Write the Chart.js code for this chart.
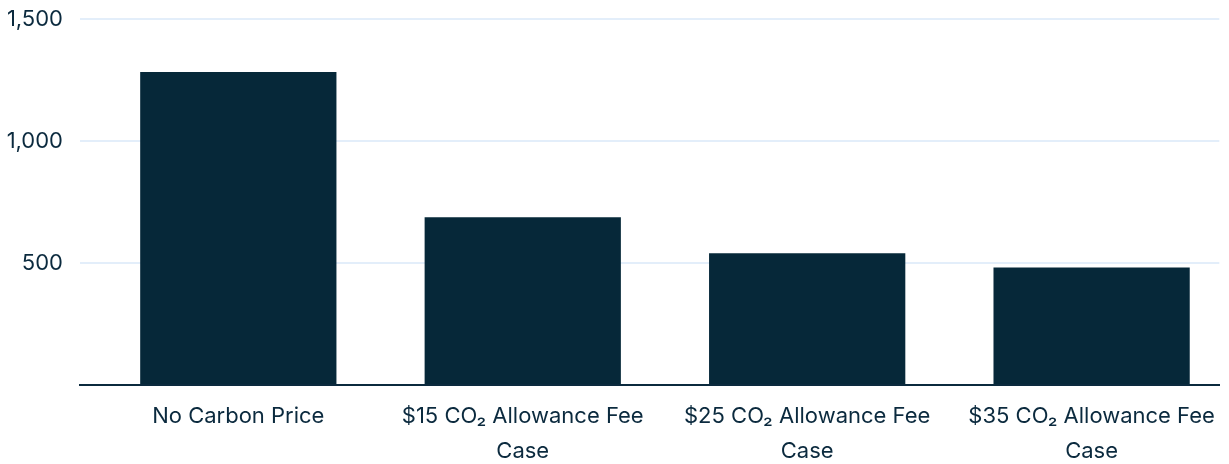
<!DOCTYPE html>
<html>
<head>
<meta charset="utf-8">
<script src="https://cdn.jsdelivr.net/npm/chart.js@4"></script>
<style>
  html, body { margin: 0; padding: 0; background: #fff; overflow: hidden; }
  #wrap { width: 1229px; height: 464px; position: relative; }
</style>
</head>
<body>
<div id="wrap"><canvas id="costChart"></canvas></div>
<script>
/* ---------- DATA ---------- */
const categories = [
  ["No Carbon Price"],
  ["$15 CO\u2082 Allowance Fee", "Case"],
  ["$25 CO\u2082 Allowance Fee", "Case"],
  ["$35 CO\u2082 Allowance Fee", "Case"],
];
const values = [1283, 687, 540, 482];
const yTicks = [500, 1000, 1500];

const INK = "#0b2a3e";
const BAR = "#062839";
const GRID = "#e3eefa";

/* ---------- Chart ---------- */
const ctx = document.getElementById("costChart").getContext("2d");
new Chart(ctx, {
  type: "bar",
  data: {
    datasets: [
      {
        data: values.map((v, i) => ({ x: i, y: v })),
        backgroundColor: BAR,
        borderWidth: 0,
        barPercentage: 0.69,
        categoryPercentage: 1,
      },
    ],
  },
  options: {
    responsive: true,
    maintainAspectRatio: false,
    animation: false,
    layout: { autoPadding: false, padding: { top: 19, right: 1, left: 0, bottom: 0 } },
    plugins: { legend: { display: false }, tooltip: { enabled: false } },
    scales: {
      x: {
        type: "linear",
        offset: false,
        min: -0.5566,
        max: 3.449,
        grid: { display: false, drawTicks: false, offset: false },
        border: { color: INK, width: 2 },
        afterBuildTicks: s => { s.ticks = categories.map((_, i) => ({ value: i })); },
        afterFit: s => { s.height = 79; },
        ticks: {
          autoSkip: false,
          maxRotation: 0,
          padding: 14,
          color: INK,
          font: { family: "Inter", size: 22, lineHeight: 1.6 },
          callback: v => categories[v] || "",
        },
      },
      y: {
        min: 0,
        max: yTicks[yTicks.length - 1],
        afterBuildTicks: s => { s.ticks = [0, ...yTicks].map(v => ({ value: v })); },
        afterFit: s => { s.width = 80; s.paddingTop = 0; s.paddingBottom = 0; },
        border: { display: false },
        grid: {
          drawTicks: false,
          lineWidth: 2,
          color: c => (c.tick && c.tick.value === 0 ? "rgba(0,0,0,0)" : GRID),
        },
        ticks: {
          padding: 17,
          color: INK,
          font: { family: "Inter", size: 22 },
          callback: v => (v === 0 ? "" : Number(v).toLocaleString("en-US")),
        },
      },
    },
  },
});
</script>
</body>
</html>
